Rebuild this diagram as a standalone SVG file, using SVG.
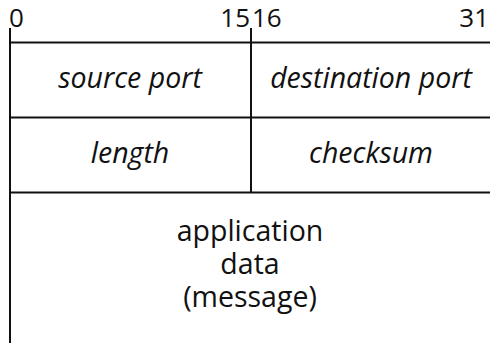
<svg xmlns="http://www.w3.org/2000/svg" width="490" height="343" viewBox="0 0 490 343">
<style>
text{font-family:"Open Sans","DejaVu Sans",sans-serif;font-size:28.5px;fill:#111}
.n{font-size:26px}
.i{font-style:italic}
.l{stroke:#111;stroke-width:2;fill:none}
</style>
<rect width="490" height="343" fill="#fff"/>
<g id="bits">
<text class="n" x="9" y="27">0</text>
<text class="n" x="250" y="27" text-anchor="end">15</text>
<text class="n" x="252" y="27">16</text>
<text class="n" x="489" y="27" text-anchor="end">31</text>
</g>
<g id="connectors">
<path class="l" d="M10 28V343M251 28V192M9 42.5H490M9 117.5H490M9 192.5H490"/>
</g>
<g id="source-port"><text class="i" x="130" y="88" text-anchor="middle">source port</text></g>
<g id="destination-port"><text class="i" x="371" y="88" text-anchor="middle">destination port</text></g>
<g id="length"><text class="i" x="130" y="163" text-anchor="middle">length</text></g>
<g id="checksum"><text class="i" x="371" y="163" text-anchor="middle">checksum</text></g>
<g id="data">
<text text-anchor="middle"><tspan x="250" y="241">application</tspan><tspan x="250" y="274">data</tspan><tspan x="250" y="307">(message)</tspan></text>
</g>
</svg>
